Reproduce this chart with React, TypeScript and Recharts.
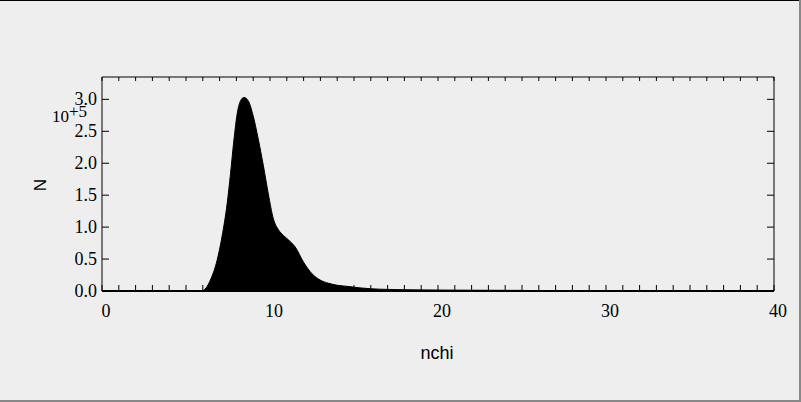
import React from 'react'
import { AreaChart, Area, XAxis, YAxis, Label } from 'recharts'

// histogram of nchi (N in counts)
const nchi = [
  0, 5.5, 5.9, 6.2, 6.45, 6.85, 7.15, 7.45, 7.65, 7.85, 8.05, 8.25, 8.45, 8.7, 9.0, 9.3, 9.6, 9.9,
  10.2, 10.5, 10.8, 11.1, 11.5, 12.0, 12.5, 13.0, 13.5, 14.0, 14.7, 15.3, 16.0, 17.0, 18.0, 20.0,
  22.0, 25.0, 25.5, 40,
]
const counts = [
  0, 0, 0, 5000, 17000, 48000, 86000, 137000, 184000, 236000, 278000, 298000, 303000, 298000,
  274000, 238000, 197000, 152000, 113000, 96000, 87000, 80000, 69000, 45000, 27000, 17000, 12000,
  9000, 7000, 5000, 3500, 2500, 2000, 1500, 1200, 1000, 0, 0,
]

const xTicks = Array.from({ length: 41 }, (_, i) => i)
const xLabels = [0, 10, 20, 30, 40]
const yTicks = [0, 50000, 100000, 150000, 200000, 250000, 300000]

const data = nchi.map((x, i) => ({ nchi: x, n: counts[i] }))

const serif = 'Liberation Serif'
const sans = 'Liberation Sans'

// ticks point into the plot, labels only on the major values
const BottomTick = (props: any) => {
  const { x, y, payload } = props
  return (
    <g>
      <line x1={x} x2={x} y1={y} y2={y - 6} stroke="#000" />
      {xLabels.includes(payload.value) && (
        <text x={x + 4} y={y + 26} textAnchor="middle" fontFamily={serif} fontSize={18} fill="#000">
          {payload.value}
        </text>
      )}
    </g>
  )
}

const TopTick = (props: any) => {
  const { x, y } = props
  return <line x1={x} x2={x} y1={y} y2={y + 4} stroke="#000" />
}

const LeftTick = (props: any) => {
  const { x, y, payload } = props
  return (
    <g>
      <line x1={x} x2={x + 7} y1={y} y2={y} stroke="#000" />
      <text x={x - 5} y={y + 6} textAnchor="end" fontFamily={serif} fontSize={18} fill="#000">
        {(payload.value / 100000).toFixed(1)}
      </text>
    </g>
  )
}

const RightTick = (props: any) => {
  const { x, y } = props
  return <line x1={x} x2={x - 7} y1={y} y2={y} stroke="#000" />
}

export default function App() {
  return (
    <div style={{ position: 'absolute', left: 0, top: 0, width: 801, height: 402, background: '#eeeeee' }}>
      <AreaChart width={801} height={402} data={data} margin={{ top: 76, right: 26, bottom: 0, left: 0 }}>
        <XAxis
          dataKey="nchi"
          type="number"
          domain={[0, 40]}
          ticks={xTicks}
          interval={0}
          height={111}
          tickSize={0}
          tickMargin={0}
          tickLine={false}
          tick={<BottomTick />}
          axisLine={{ stroke: '#000', strokeWidth: 2 }}
        >
          <Label
            content={() => (
              <text x={437} y={359} textAnchor="middle" fontFamily={sans} fontSize={18} fill="#000">
                nchi
              </text>
            )}
          />
        </XAxis>
        <XAxis
          xAxisId="top"
          dataKey="nchi"
          orientation="top"
          type="number"
          domain={[0, 40]}
          ticks={xTicks}
          interval={0}
          height={1}
          tickSize={0}
          tickMargin={0}
          tickLine={false}
          tick={<TopTick />}
          axisLine={{ stroke: '#000' }}
        />
        <YAxis
          type="number"
          domain={[0, 335000]}
          ticks={yTicks}
          interval={0}
          width={102}
          tickSize={0}
          tickMargin={0}
          tickLine={false}
          tick={<LeftTick />}
          axisLine={{ stroke: '#000' }}
        >
          <Label
            content={() => (
              <text x={40} y={185} transform="rotate(-90 40 185)" textAnchor="middle" dominantBaseline="central" fontFamily={sans} fontSize={17} fill="#000">
                N
              </text>
            )}
          />
          <Label
            content={() => (
              <text x={52} y={122} fontFamily={serif} fontSize={17} fill="#000">
                10<tspan dy={-5}>+5</tspan>
              </text>
            )}
          />
        </YAxis>
        <YAxis
          yAxisId="right"
          orientation="right"
          type="number"
          domain={[0, 335000]}
          ticks={yTicks}
          interval={0}
          width={1}
          tickSize={0}
          tickMargin={0}
          tickLine={false}
          tick={<RightTick />}
          axisLine={{ stroke: '#000' }}
        />
        {/* invisible copy so the top and right frame axes get drawn */}
        <Area
          xAxisId="top"
          yAxisId="right"
          dataKey="n"
          type="monotone"
          stroke="none"
          fill="none"
          isAnimationActive={false}
          dot={false}
          activeDot={false}
        />
        <Area
          dataKey="n"
          type="monotone"
          stroke="#000"
          strokeWidth={1}
          fill="#000"
          fillOpacity={1}
          isAnimationActive={false}
          dot={false}
        />
      </AreaChart>
      <div style={{ position: 'absolute', left: 0, top: 0, width: 801, height: 1, background: '#000' }} />
      <div style={{ position: 'absolute', right: 0, top: 0, width: 2, height: 402, background: '#888' }} />
      <div style={{ position: 'absolute', left: 0, bottom: 0, width: 801, height: 2, background: '#888' }} />
    </div>
  )
}
